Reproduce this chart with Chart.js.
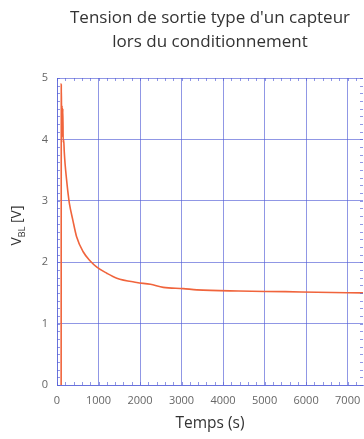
<!DOCTYPE html>
<html>
<head>
<meta charset="utf-8">
<script src="https://cdn.jsdelivr.net/npm/chart.js@4"></script>
<style>
  html, body { margin: 0; padding: 0; background: #fff; }
  #wrap { width: 364px; height: 439px; }
</style>
</head>
<body>
<div id="wrap"><canvas id="c" width="364" height="439"></canvas></div>
<script>
// values
const titleLines = ["Tension de sortie type d'un capteur", "lors du conditionnement"];
const xTitle = "Temps (s)";
const xTicks = [0, 1000, 2000, 3000, 4000, 5000, 6000, 7000];
const yTicks = [0, 1, 2, 3, 4, 5];
const timeS = [100, 103, 112, 122, 130, 140, 150, 160, 175, 195, 230, 270, 300, 380, 470, 630, 800, 960, 1200, 1440, 1920, 2250, 2560, 3040, 3370, 4370, 5500, 6260, 7370];
const vbl   = [0, 4.9, 4.3, 4.55, 4.05, 4.5, 3.95, 4.0, 3.8, 3.6, 3.35, 3.1, 2.95, 2.69, 2.42, 2.17, 2.02, 1.92, 1.82, 1.74, 1.67, 1.64, 1.59, 1.57, 1.55, 1.53, 1.52, 1.51, 1.50];
const xMax = 7370;
const yMax = 5;

const gridBlue = 'rgba(85,95,215,0.65)';
const txtGray = '#666';

let pts = timeS.map((t, i) => ({x: t, y: vbl[i]}));

// small ticks inside the frame + the y axis title with subscript
const extras = {
  id: 'extras',
  afterDraw(chart) {
    const ctx = chart.ctx;
    const a = chart.chartArea;
    const xs = chart.scales.x, ys = chart.scales.y;
    ctx.save();
    ctx.strokeStyle = gridBlue;
    ctx.lineWidth = 1;
    ctx.beginPath();
    for (let v = 0; v <= yMax; v += 0.125) {
      const py = Math.round(ys.getPixelForValue(v)) + 0.5;
      ctx.moveTo(a.left, py); ctx.lineTo(a.left + 3, py);
      ctx.moveTo(a.right, py); ctx.lineTo(a.right - 3, py);
    }
    for (let v = 0; v <= xMax; v += 200) {
      const px = Math.round(xs.getPixelForValue(v)) + 0.5;
      ctx.moveTo(px, a.bottom); ctx.lineTo(px, a.bottom - 3);
      ctx.moveTo(px, a.top); ctx.lineTo(px, a.top + 3);
    }
    ctx.stroke();

    // V_BL [V]
    ctx.translate(17, (a.top + a.bottom) / 2 - 6);
    ctx.rotate(-Math.PI / 2);
    ctx.fillStyle = '#333';
    ctx.textBaseline = 'middle';
    ctx.font = '14px "Open Sans"';
    const w1 = ctx.measureText('V').width;
    ctx.font = '9px "Open Sans"';
    const w2 = ctx.measureText('BL').width;
    ctx.font = '14px "Open Sans"';
    const w3 = ctx.measureText(' [V]').width;
    let x0 = -(w1 + w2 + w3) / 2;
    ctx.fillText('V', x0, 0);
    ctx.font = '9px "Open Sans"';
    ctx.fillText('BL', x0 + w1, 5);
    ctx.font = '14px "Open Sans"';
    ctx.fillText(' [V]', x0 + w1 + w2, 0);
    ctx.restore();
  }
};

new Chart(document.getElementById('c'), {
  type: 'line',
  data: {
    datasets: [{
      data: pts,
      borderColor: '#f0643c',
      borderWidth: 1.6,
      pointRadius: 0,
      fill: false,
      cubicInterpolationMode: 'monotone'
    }]
  },
  options: {
    responsive: false,
    animation: false,
    layout: { padding: { left: 0, right: 1, top: 0, bottom: 0 } },
    plugins: {
      legend: { display: false },
      tooltip: { enabled: false },
      title: {
        display: true,
        fullSize: false,
        text: titleLines,
        color: '#333',
        font: { family: 'Open Sans', size: 17, weight: 'normal', lineHeight: '24px' },
        padding: { top: 6, bottom: 24 }
      }
    },
    scales: {
      x: {
        type: 'linear',
        min: 0,
        max: xMax,
        afterFit: (s) => { s.height = 54; s.paddingRight = 0; s.paddingLeft = 0; },
        afterBuildTicks: (s) => { s.ticks = xTicks.map(v => ({value: v})); },
        ticks: {
          autoSkip: false,
          maxRotation: 0,
          padding: 9,
          color: txtGray,
          font: { family: 'Open Sans', size: 11 },
          callback: (v) => String(v)
        },
        grid: { color: gridBlue, drawTicks: false },
        border: { color: gridBlue },
        title: {
          display: true,
          text: xTitle,
          color: '#333',
          font: { family: 'Open Sans', size: 15.5 },
          padding: { top: 0, bottom: 6 }
        }
      },
      y: {
        min: 0,
        max: yMax,
        afterFit: (s) => { s.width = 57; },
        afterBuildTicks: (s) => { s.ticks = yTicks.map(v => ({value: v})); },
        ticks: {
          padding: 9,
          color: txtGray,
          font: { family: 'Open Sans', size: 11 },
          callback: (v) => String(v)
        },
        grid: { color: gridBlue, drawTicks: false },
        border: { color: gridBlue }
      }
    }
  },
  plugins: [extras]
});
</script>
</body>
</html>
